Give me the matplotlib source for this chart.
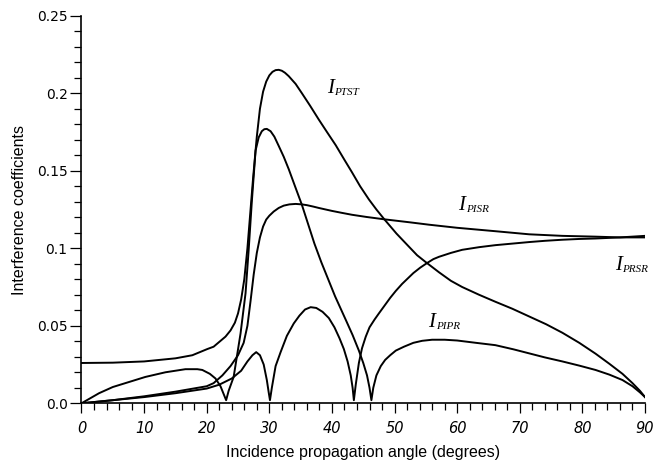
import matplotlib
matplotlib.use("Agg")
import matplotlib.pyplot as plt
from matplotlib.ticker import MultipleLocator, FixedLocator, FixedFormatter

# values (angle in degrees, coefficient)
ptst_deg = [0, 5, 10, 15, 17.7, 20.1, 21.1, 23.0, 23.8, 24.5, 25.0, 25.5, 26.0, 26.5,
            27.0, 27.4, 27.8, 28.0, 28.5, 29.0, 29.5, 30.0, 30.5, 31.0, 31.5, 32.0,
            32.5, 33.1, 34.2, 35.2, 36.5, 37.9, 39.2, 40.6, 42.0, 43.2, 44.5, 45.9,
            47.1, 48.3, 50.3, 52.3, 53.6, 55.0, 57.1, 59.0, 60.8, 63.5, 66.1, 68.8,
            71.5, 74.2, 76.8, 79.5, 82.1, 84.3, 86.4, 88.0, 89.2, 90]
ptst_val = [0.026, 0.0262, 0.027, 0.029, 0.031, 0.035, 0.0365, 0.043, 0.047, 0.052,
            0.058, 0.067, 0.080, 0.100, 0.125, 0.145, 0.163, 0.172, 0.190, 0.201,
            0.2075, 0.2115, 0.2138, 0.2149, 0.2151, 0.2145, 0.2132, 0.211, 0.206,
            0.200, 0.192, 0.183, 0.175, 0.1665, 0.157, 0.149, 0.140, 0.1315, 0.125,
            0.119, 0.1095, 0.101, 0.0955, 0.091, 0.0845, 0.079, 0.075, 0.070, 0.0655,
            0.061, 0.056, 0.051, 0.0455, 0.039, 0.032, 0.0255, 0.019, 0.013, 0.008,
            0.004]

pipr_deg = [0, 2.8, 5, 7.0, 10.2, 13.4, 16.6, 18.5, 19.3, 20.5, 21.4, 22.2, 22.7, 23.1,
            23.5, 24.3, 25.4, 26.2, 26.7, 27.2, 27.8, 28.3, 28.8, 29.2, 29.6, 30.2,
            30.8, 31.5, 32.3, 33.1, 34.1, 35.2, 36.2, 37.2, 38.3, 39.5, 40.5, 41.4,
            42.3, 43.3, 44.3, 45.0, 45.6, 46.0, 46.3, 46.6, 47.1, 47.8, 48.5, 49.3,
            50.2, 51.5, 53.0, 54.4, 56.0, 58.0, 60.0, 63.0, 66.1, 69.0, 71.5, 74.0,
            76.8, 79.5, 82.1, 84.3, 86.4, 88.0, 89.2, 90]
pipr_val = [0, 0.0065, 0.0105, 0.013, 0.017, 0.020, 0.022, 0.022, 0.0215, 0.019, 0.016,
            0.011, 0.006, 0.002, 0.008, 0.017, 0.045, 0.071, 0.099, 0.130, 0.163,
            0.1715, 0.1755, 0.1768, 0.177, 0.1755, 0.172, 0.166, 0.159, 0.151, 0.140,
            0.128, 0.1155, 0.103, 0.091, 0.079, 0.069, 0.061, 0.053, 0.044, 0.034,
            0.026, 0.018, 0.010, 0.002, 0.010, 0.018, 0.024, 0.028, 0.031, 0.034,
            0.0365, 0.039, 0.0403, 0.041, 0.041, 0.0405, 0.039, 0.0375, 0.0348,
            0.0322, 0.0296, 0.027, 0.0243, 0.0215, 0.0185, 0.015, 0.011, 0.007, 0.004]

prsr_deg = [0, 5, 10, 15, 20, 22, 24, 25.5, 26.5, 27.3, 27.9, 28.5, 29.1, 29.6, 29.9,
            30.1, 30.4, 31.0, 31.8, 32.8, 33.9, 34.8, 35.7, 36.6, 37.5, 38.5, 39.5,
            40.4, 41.2, 41.9, 42.5, 43.0, 43.3, 43.5, 43.8, 44.3, 44.8, 45.4, 46.0,
            46.8, 47.5, 48.4, 49.3, 50.2, 51.2, 52.1, 53.0, 54.1, 55.2, 56.2, 57.1,
            59.0, 60.8, 63.5, 66.1, 68.8, 71.5, 74.0, 76.8, 79.5, 82.1, 86.0, 90]
prsr_val = [0, 0.002, 0.004, 0.0065, 0.0095, 0.012, 0.016, 0.021, 0.027, 0.031, 0.033,
            0.031, 0.025, 0.015, 0.007, 0.002, 0.010, 0.024, 0.033, 0.0435, 0.0515,
            0.0565, 0.0605, 0.062, 0.0615, 0.059, 0.055, 0.049, 0.042, 0.035, 0.027,
            0.018, 0.010, 0.002, 0.012, 0.026, 0.0355, 0.043, 0.049, 0.054, 0.058,
            0.063, 0.068, 0.0725, 0.077, 0.0805, 0.084, 0.0875, 0.0905, 0.093,
            0.0945, 0.097, 0.099, 0.1007, 0.102, 0.103, 0.104, 0.1048, 0.1055, 0.106,
            0.1063, 0.107, 0.108]

pisr_deg = [0, 5, 10, 15, 20, 21.1, 22.5, 23.8, 25.0, 25.9, 26.5, 27.0, 27.5, 28.0,
            28.5, 29.0, 29.5, 30.0, 30.7, 31.5, 32.3, 33.2, 34.2, 35.2, 36.0, 37.0,
            37.9, 39.0, 40.0, 41.5, 43.2, 45.5, 48.3, 52.3, 55.5, 60.0, 66.1, 71.5,
            76.8, 82.0, 86.0, 90]
pisr_val = [0, 0.002, 0.0045, 0.0075, 0.011, 0.013, 0.018, 0.024, 0.031, 0.039, 0.050,
            0.066, 0.083, 0.097, 0.107, 0.114, 0.1185, 0.121, 0.1237, 0.126, 0.1275,
            0.1283, 0.1286, 0.1283, 0.1278, 0.1269, 0.1260, 0.1250, 0.1241, 0.1229,
            0.1216, 0.1202, 0.1187, 0.1168, 0.1152, 0.1132, 0.111, 0.109, 0.108,
            0.1075, 0.107, 0.107]

y_ticks = [0.0, 0.05, 0.1, 0.15, 0.2, 0.25]
y_tick_labels = ["0.0", "0.05", "0.1", "0.15", "0.2", "0.25"]
x_ticks = [0, 10, 20, 30, 40, 50, 60, 70, 80, 90]

fig = plt.figure(figsize=(6.68, 4.69), dpi=100)
ax = fig.add_axes([0.122, 0.1401, 0.8436, 0.8264])

for d, v in [(ptst_deg, ptst_val), (pipr_deg, pipr_val),
             (prsr_deg, prsr_val), (pisr_deg, pisr_val)]:
    ax.plot(d, v, color="black", lw=1.4, solid_joinstyle="round")

ax.set_xlim(0, 90)
ax.set_ylim(0, 0.25)

for side in ["top", "right"]:
    ax.spines[side].set_visible(False)
for side in ["left", "bottom"]:
    ax.spines[side].set_linewidth(1.2)

ax.xaxis.set_major_locator(FixedLocator(x_ticks))
ax.xaxis.set_minor_locator(MultipleLocator(2))
ax.yaxis.set_major_locator(FixedLocator(y_ticks))
ax.yaxis.set_major_formatter(FixedFormatter(y_tick_labels))
ax.yaxis.set_minor_locator(MultipleLocator(0.01))

ax.tick_params(axis="x", which="major", direction="out", length=7, width=0.9, pad=6)
ax.tick_params(axis="x", which="minor", direction="out", length=5, width=0.9)
ax.tick_params(axis="y", which="major", direction="out", length=8, width=0.9, pad=2)
ax.tick_params(axis="y", which="minor", direction="out", length=5, width=0.9)

for t in ax.get_xticklabels():
    t.set_fontfamily("DejaVu Sans")
    t.set_fontstyle("italic")
    t.set_fontsize(10.5)
for t in ax.get_yticklabels():
    t.set_fontfamily("DejaVu Sans")
    t.set_fontsize(10)

ax.set_xlabel("Incidence propagation angle (degrees)", fontsize=11.5,
              family="Liberation Sans")
ax.set_ylabel("Interference coefficients", fontsize=11.5, family="Liberation Sans")
ax.xaxis.set_label_coords(0.5, -0.108)
ax.yaxis.set_label_coords(-0.097, 0.5)


def curve_label(x, y, sub):
    ax.text(x, y, "I", fontsize=15, family="Liberation Serif", style="italic",
            va="baseline")
    ax.annotate(sub, xy=(x, y), xytext=(5.2, -1.5), textcoords="offset points",
                fontsize=8, family="Liberation Serif", style="italic", va="baseline")


curve_label(39.2, 0.200, "PTST")
curve_label(60.2, 0.1247, "PISR")
curve_label(85.2, 0.086, "PRSR")
curve_label(55.4, 0.0494, "PIPR")

fig.savefig("out.png", dpi=100)
